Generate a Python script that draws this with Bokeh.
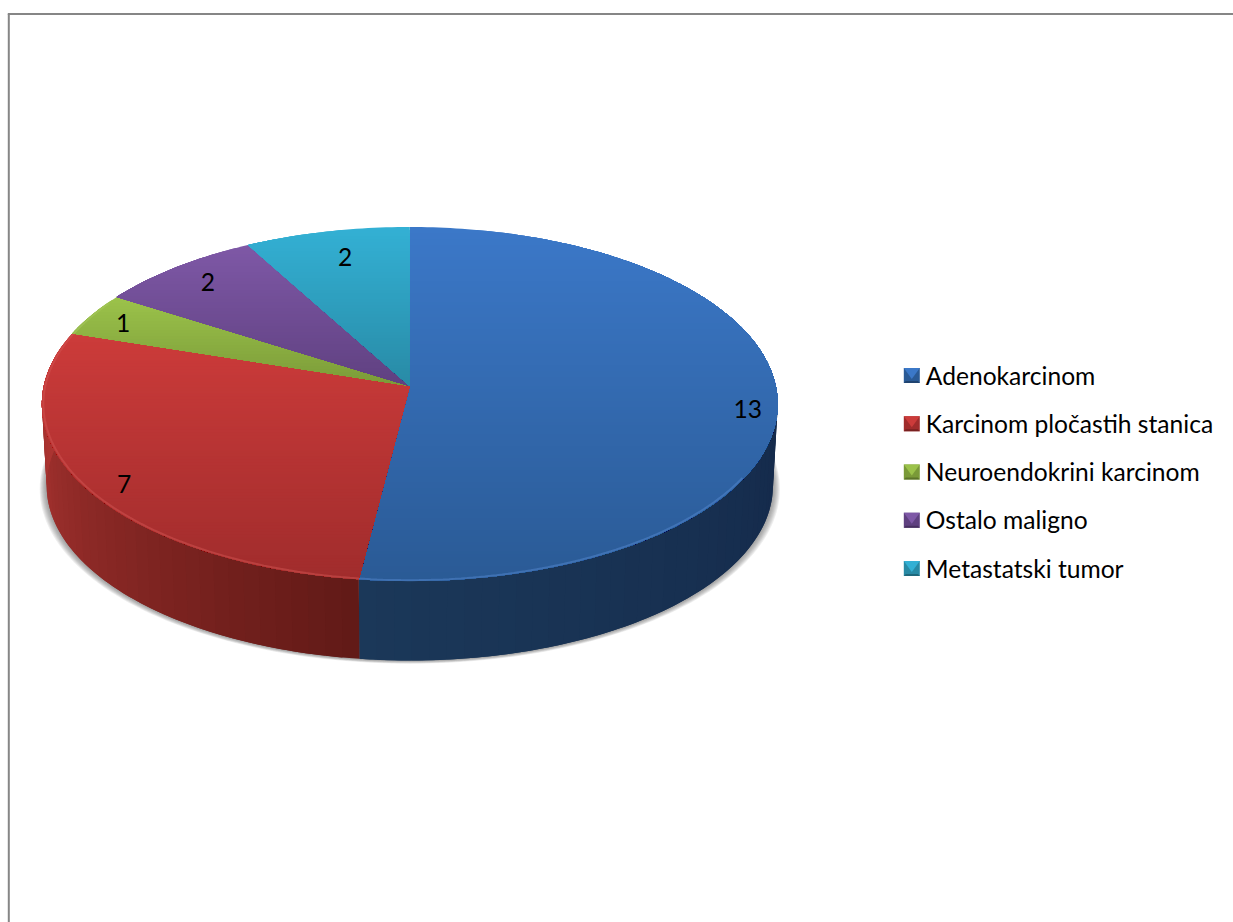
import numpy as np
from bokeh.plotting import figure
from bokeh.models import Range1d
from bokeh.core.properties import value
from bokeh.embed import file_html
from bokeh.resources import INLINE

# --- data
categories = ["Adenokarcinom", "Karcinom pločastih stanica", "Neuroendokrini karcinom",
              "Ostalo maligno", "Metastatski tumor"]
counts = [13, 7, 1, 2, 2]

# --- style
face_light = ["#3b78c8", "#cc3b3a", "#9bc24a", "#7e58a6", "#33b0d4"]
face_dark = ["#2a5a95", "#a02c2c", "#7a9a38", "#5f4080", "#288aa5"]
wall_start = ["#14294a", "#621a17", "#5f7a2a", "#4a3268", "#1f6f85"]
wall_end = ["#1b3859", "#ab3431", "#7a9a38", "#5f4080", "#288aa5"]
FONT = "Lato"
FONT_SIZE = "24.6px"
CX, CY, A, B, K, DEPTH, BOTTOM_SCALE = 410.0, 386.0, 366.0, 175.2, 0.1017, 82.0, 0.987
label_r = [0.92, 0.88, 0.88, 0.88, 0.88]
label_dx = [0, 0, -6, 5, 9]
label_dy = [13, 11, 0, 2, 8]


def hex2rgb(h):
    return np.array([int(h[i:i + 2], 16) for i in (1, 3, 5)], float)


def mix(a, b, t):
    c = hex2rgb(a) * (1 - t) + hex2rgb(b) * t
    return "#%02x%02x%02x" % tuple(int(round(v)) for v in c)


def proj(theta_deg, r=1.0):
    t = np.radians(theta_deg)
    u, v = r * np.sin(t), r * np.cos(t)
    d = 1 + K * v
    return CX + A * u / d, CY - B * v / d


def bottom(theta_deg, r=1.0):
    x, y = proj(theta_deg, r)
    return CX + (x - CX) * BOTTOM_SCALE, CY + (y - CY) * BOTTOM_SCALE + DEPTH


total = sum(counts)
edges = np.concatenate([[0.0], np.cumsum(counts) / total * 360.0])

p = figure(width=1233, height=922, output_backend="svg", toolbar_location=None,
           x_range=Range1d(0.7, 1233.7), y_range=Range1d(922.5, 0.5), min_border=0,
           background_fill_color="white", border_fill_color="white", outline_line_color=None)
p.axis.visible = False
p.grid.visible = False

# soft shadow under the wall
full = np.linspace(0, 360, 241)
bx, by = bottom(full)
for d in [7, 6, 5, 4, 3, 2, 1]:
    p.patch(CX + (bx - CX) * (1 + d / 366.0), by + d * 0.45, fill_color="#555555",
            fill_alpha=0.10, line_color=None)

# side wall: each strip reaches on to the next one, which is painted over it
wx, wy, wc = [], [], []
for i in range(len(counts)):
    lo, hi = edges[i], edges[i + 1]
    vis_lo, vis_hi = max(lo, 80.0), min(hi, 292.0)
    if vis_lo >= vis_hi:
        continue
    n = int((vis_hi - vis_lo) / 2.5) + 1
    th = np.linspace(vis_lo, vis_hi, n + 1)
    for j in range(n):
        end = th[min(j + 2, n)]
        tm = np.linspace(th[j], end, 6)
        tx, ty = proj(tm)
        ux, uy = bottom(tm[::-1])
        wx.append(list(tx) + list(ux)); wy.append(list(ty) + list(uy))
        if i == 0:
            frac = (th[j] - 90.0) / (edges[1] - 90.0)
            wc.append(mix(wall_start[0], wall_end[0], min(max(frac, 0), 1)))
        else:
            frac = (th[j] - lo) / (270.0 - lo)
            wc.append(mix(wall_start[i], wall_end[i], min(frac, 1)))
p.patches(wx, wy, fill_color=wc, line_color=None)


# top faces: vertical gradient, painted as bands from each band down to the slice bottom
def clip_below(xs, ys, y0):
    ox, oy = [], []
    n = len(xs)
    for a in range(n):
        x1, y1, x2, y2 = xs[a], ys[a], xs[(a + 1) % n], ys[(a + 1) % n]
        in1, in2 = y1 >= y0, y2 >= y0
        if in1:
            ox.append(x1); oy.append(y1)
        if in1 != in2:
            t = (y0 - y1) / (y2 - y1)
            ox.append(x1 + (x2 - x1) * t); oy.append(y0)
    return ox, oy


for i in range(len(counts)):
    th = np.linspace(edges[i], edges[i + 1], max(int(counts[i] * 14.4), 8) + 1)
    ax, ay = proj(th)
    xs = [CX] + list(ax)
    ys = [CY] + list(ay)
    top, bot = min(ys), max(ys)
    px, py, pc = [], [], []
    for y0 in np.arange(top, bot, 3.0):
        cx_, cy_ = clip_below(xs, ys, y0)
        if len(cx_) >= 3:
            px.append(cx_); py.append(cy_)
            pc.append(mix(face_light[i], face_dark[i], (y0 - top) / (bot - top)))
    p.patches(px, py, fill_color=pc, line_color=None)

    # bevelled rim along the front edge
    lo, hi = max(edges[i], 120.0), min(edges[i + 1], 300.0)
    if lo < hi:
        rt = np.linspace(lo, hi, 80)
        rx, ry = proj(rt, 0.996)
        p.line(rx, ry, line_color=mix(face_light[i], "#ffffff", 0.12), line_width=2, line_alpha=0.5)

# value labels
mid = (edges[:-1] + edges[1:]) / 2
lx, ly = [], []
for i, m in enumerate(mid):
    x, y = proj(m, label_r[i])
    lx.append(float(x) + label_dx[i]); ly.append(float(y) + label_dy[i])
p.text(lx, ly, text=[str(c) for c in counts], text_font=value(FONT), text_font_size=FONT_SIZE,
       text_align="center", text_baseline="middle", text_color="#000000")

# legend
LEG_Y0, LEG_STEP, LEG_X, MARK = 375.0, 48.25, 904.0, 16.0
for i, name in enumerate(categories):
    yc = LEG_Y0 + i * LEG_STEP
    y0, y1 = yc - 7, yc + 8
    x0, x1 = LEG_X, LEG_X + MARK
    p.patch([x0, x1, x1, x0], [y0, y0, y1, y1], fill_color=face_dark[i], line_color=None)
    p.patch([x0, x1, (x0 + x1) / 2], [y0, y0, y1 - 4], fill_color=face_light[i], line_color=None)
    p.patch([x0, x1, x1 - 2, x0 + 2], [y1, y1, y1 - 2, y1 - 2],
            fill_color=mix(face_dark[i], "#000000", 0.25), line_color=None)
p.text([926.0] * 5, [LEG_Y0 + i * LEG_STEP for i in range(5)], text=categories,
       text_font=value(FONT), text_font_size=FONT_SIZE, text_align="left", text_baseline="middle",
       text_color="#000000")

# chart frame
p.line([9, 9], [14, 923], line_color="#868686", line_width=2)
p.line([8, 1234], [14, 14], line_color="#868686", line_width=2)

open("out.html", "w").write(file_html(p, INLINE))
